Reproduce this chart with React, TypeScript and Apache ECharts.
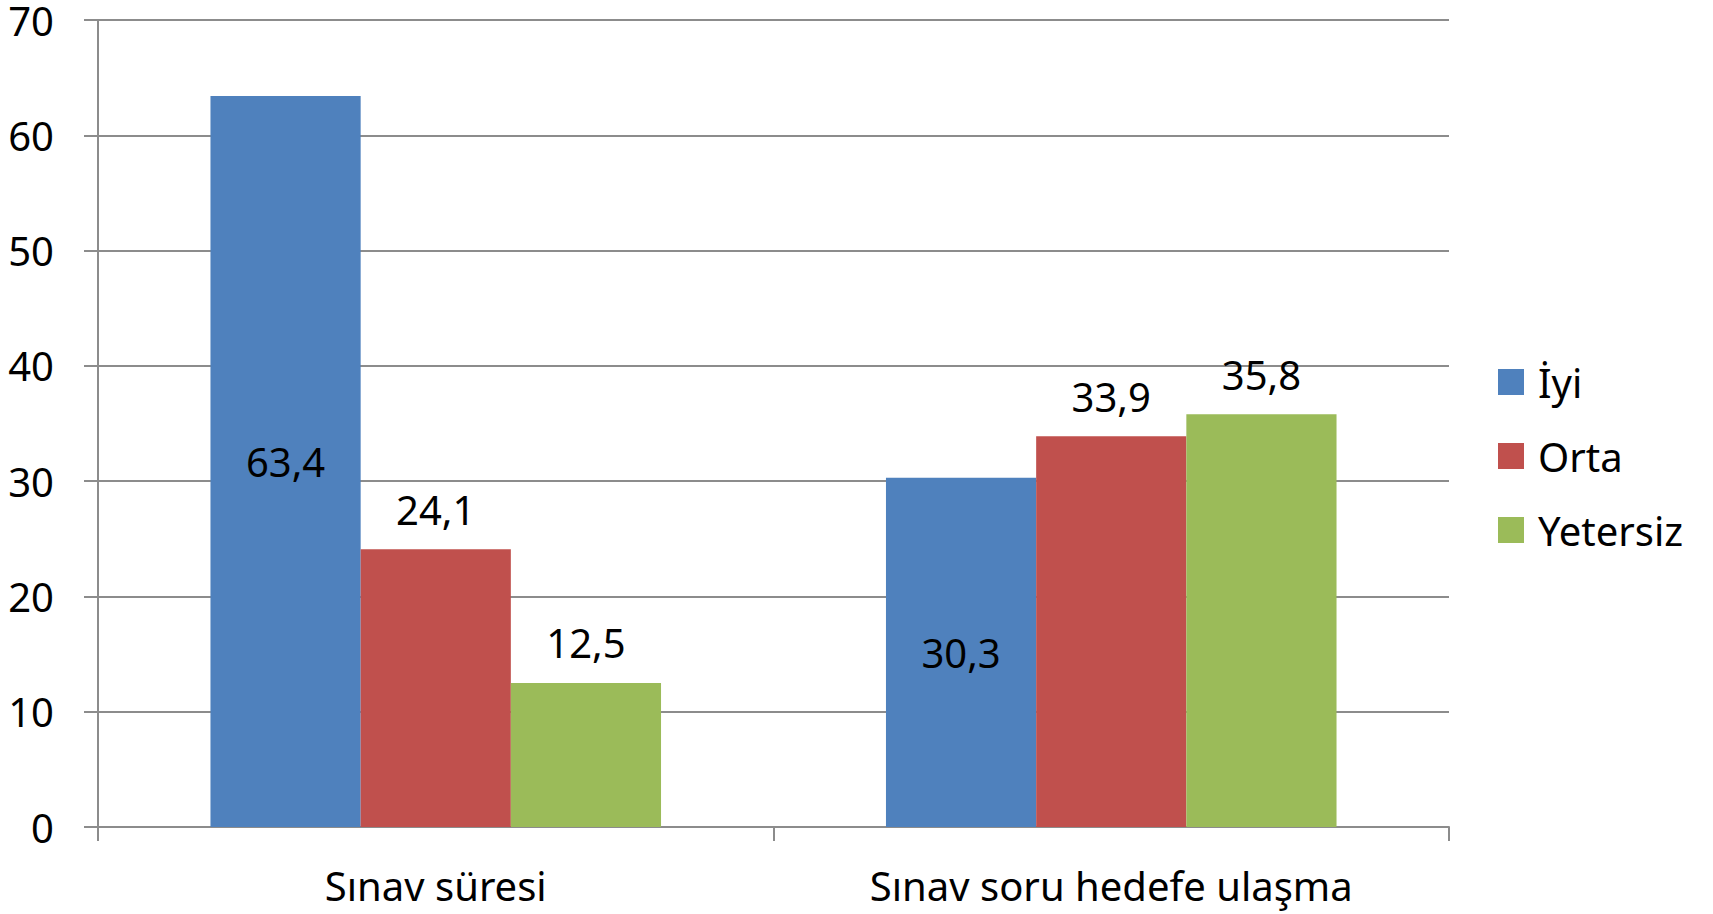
import React, { useEffect, useRef } from "react";
import * as echarts from "echarts";

const categories = ["Sınav süresi", "Sınav soru hedefe ulaşma"];
const seriesNames = ["İyi", "Orta", "Yetersiz"];
const iyiValues = [63.4, 30.3];
const ortaValues = [24.1, 33.9];
const yetersizValues = [12.5, 35.8];
const colors = ["#4F81BD", "#C0504D", "#9BBB59"];

const FONT = "Noto Sans";
const FS = 40;

const fmt = (p: any) => String(p.value).replace(".", ",");

export default function App() {
  const ref = useRef<HTMLDivElement>(null);
  useEffect(() => {
    document.body.style.margin = "0";
    document.body.style.overflow = "hidden";
    const chart = echarts.init(ref.current!, null, { renderer: "svg" });
    const values = [iyiValues, ortaValues, yetersizValues];
    chart.setOption({
      animation: false,
      textStyle: { fontFamily: FONT },
      grid: { left: 98, right: 264, top: 20, bottom: 87 },
      legend: {
        orient: "vertical",
        left: 1498,
        top: 362,
        padding: 0,
        itemWidth: 26,
        itemHeight: 26,
        itemGap: 34,
        icon: "rect",
        textStyle: { fontFamily: FONT, fontSize: FS, color: "#000", padding: [0, 0, 0, 9] },
        data: seriesNames,
      },
      xAxis: {
        type: "category",
        data: categories,
        axisLine: { lineStyle: { color: "#8C8C8C", width: 2 } },
        axisTick: { show: true, length: 14, lineStyle: { color: "#8C8C8C", width: 2 } },
        axisLabel: { fontFamily: FONT, fontSize: FS, color: "#000", margin: 38 },
      },
      yAxis: {
        type: "value",
        min: 0,
        max: 70,
        interval: 10,
        axisLine: { show: true, lineStyle: { color: "#8C8C8C", width: 2 } },
        axisTick: { show: true, length: 14, lineStyle: { color: "#8C8C8C", width: 2 } },
        splitLine: { lineStyle: { color: "#8C8C8C", width: 2 } },
        axisLabel: { fontFamily: FONT, fontSize: FS, color: "#000", margin: 44 },
      },
      series: seriesNames.map((name, i) => ({
        name,
        type: "bar",
        data: values[i],
        barGap: "0%",
        barCategoryGap: "33.3%",
        itemStyle: { color: colors[i] },
        label: {
          show: true,
          position: i === 0 ? "inside" : "top",
          distance: i === 0 ? 5 : 20,
          formatter: fmt,
          fontFamily: FONT,
          fontSize: FS,
          color: "#000",
        },
      })),
    });
    return () => chart.dispose();
  }, []);
  return <div ref={ref} style={{ width: 1713, height: 914 }} />;
}
